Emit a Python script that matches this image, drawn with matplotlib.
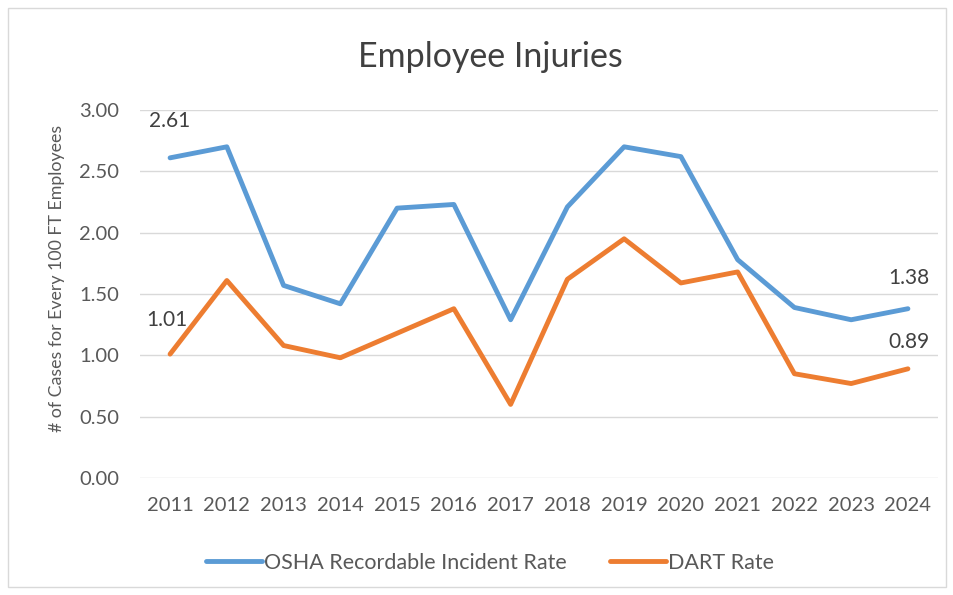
import matplotlib.pyplot as plt
from matplotlib.patches import Rectangle

plt.rcParams["font.family"] = ["Lato", "DejaVu Sans"]

years = [2011, 2012, 2013, 2014, 2015, 2016, 2017, 2018, 2019, 2020, 2021, 2022, 2023, 2024]
osha_rate = [2.61, 2.70, 1.57, 1.42, 2.20, 2.23, 1.29, 2.21, 2.70, 2.62, 1.78, 1.39, 1.29, 1.38]
dart_rate = [1.01, 1.61, 1.08, 0.98, 1.18, 1.38, 0.60, 1.62, 1.95, 1.59, 1.68, 0.85, 0.77, 0.89]
y_ticks = [0.0, 0.5, 1.0, 1.5, 2.0, 2.5, 3.0]

blue = "#5B9BD5"
orange = "#ED7D31"
text_col = "#595959"

fig = plt.figure(figsize=(9.54, 5.95), dpi=100)
ax = fig.add_axes([140 / 954, 1 - 478 / 595, (938 - 140) / 954, (478 - 110) / 595])

x = list(range(len(years)))
ax.plot(x, osha_rate, color=blue, linewidth=3.5, solid_capstyle="round",
        solid_joinstyle="round", label="OSHA Recordable Incident Rate")
ax.plot(x, dart_rate, color=orange, linewidth=3.5, solid_capstyle="round",
        solid_joinstyle="round", label="DART Rate")

ax.set_xlim(-0.53, len(years) - 0.47)
ax.set_ylim(0, 3.0)
ax.set_yticks(y_ticks)
ax.set_yticklabels([f"{v:.2f}" for v in y_ticks])
ax.set_xticks(x)
ax.set_xticklabels([str(y) for y in years])
ax.tick_params(axis="both", length=0, labelsize=14.5, colors=text_col)
ax.tick_params(axis="y", pad=15)
ax.tick_params(axis="x", pad=14)
ax.grid(axis="y", color="#D9D9D9", linewidth=1.0)
ax.set_axisbelow(True)
for s in ax.spines.values():
    s.set_visible(False)

fig.text(57 / 954, 1 - 278 / 595, "# of Cases for Every 100 FT Employees", rotation=90,
         ha="center", va="center", fontsize=12.8, color=text_col)

# data labels on first and last points
lbl = dict(textcoords="offset points", ha="center", va="bottom", fontsize=15, color="#404040")
ax.annotate(f"{osha_rate[0]:.2f}", (x[0], osha_rate[0]), xytext=(0, 19), **lbl)
ax.annotate(f"{dart_rate[0]:.2f}", (x[0], dart_rate[0]), xytext=(-2, 17), **lbl)
ax.annotate(f"{osha_rate[-1]:.2f}", (x[-1], osha_rate[-1]), xytext=(1, 15), **lbl)
ax.annotate(f"{dart_rate[-1]:.2f}", (x[-1], dart_rate[-1]), xytext=(1, 12), **lbl)

fig.text(490 / 954, 1 - 57 / 595, "Employee Injuries", ha="center", va="center",
         fontsize=24.5, color="#404040")

leg = fig.legend(loc="center", bbox_to_anchor=(490 / 954, 1 - 563 / 595), ncol=2,
                 frameon=False, fontsize=15.5, handlelength=2.6, handletextpad=0.1,
                 columnspacing=2.0)
for t in leg.get_texts():
    t.set_color(text_col)

fig.patches.append(Rectangle((8 / 954, 8 / 595), 1 - 16 / 954, 1 - 16 / 595,
                             transform=fig.transFigure, fill=False,
                             edgecolor="#D9D9D9", linewidth=1.0))

fig.savefig("out.png", dpi=100)
